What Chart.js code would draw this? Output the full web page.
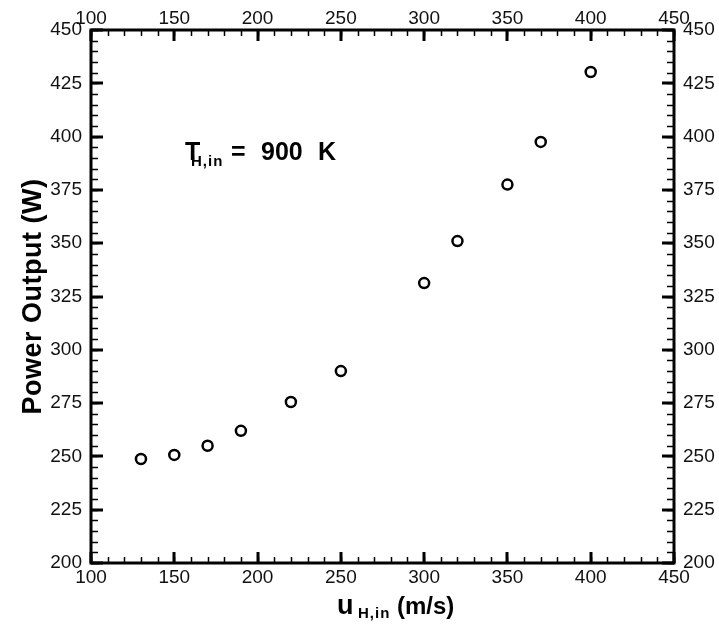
<!DOCTYPE html>
<html>
<head>
<meta charset="utf-8">
<script src="https://cdn.jsdelivr.net/npm/chart.js@4.4.1/dist/chart.umd.min.js"></script>
<style>
html, body { margin: 0; padding: 0; background: #fff; }
</style>
</head>
<body>
<canvas id="myChart" width="719" height="625"></canvas>
<script>
// inlet velocity (m/s) and power output (W)
const velocity = [130, 150, 170, 190, 220, 250, 300, 320, 350, 370, 400];
const power = [248.8, 250.7, 255, 262, 275.5, 290, 331.3, 351, 377.5, 397.5, 430.3];

const xTicks = [100, 150, 200, 250, 300, 350, 400, 450];
const yTicks = [200, 225, 250, 275, 300, 325, 350, 375, 400, 425, 450];
const xMinorStep = 10;
const yMinorStep = 5;

const FONT = '"Liberation Sans", Arial, Helvetica, sans-serif';

function setTicks(list) {
    return scale => { scale.ticks = list.map(v => ({ value: v })); };
}

function axis(position, min, max, list, size, pad) {
    const horiz = position === 'top' || position === 'bottom';
    return {
        type: 'linear',
        position: position,
        min: min,
        max: max,
        grid: { display: false, drawTicks: false },
        border: { display: false },
        afterBuildTicks: setTicks(list),
        afterFit: scale => {
            if (horiz) scale.height = size; else scale.width = size;
        },
        ticks: {
            autoSkip: false,
            maxRotation: 0,
            padding: pad,
            color: '#111',
            font: { family: FONT, size: 19 }
        }
    };
}

// frame, inward ticks on all sides, titles and the note
const decorations = {
    id: 'decorations',
    afterDraw(chart) {
        const ctx = chart.ctx;
        const area = chart.chartArea;
        const xs = chart.scales.x;
        const ys = chart.scales.y;
        ctx.save();
        ctx.strokeStyle = '#000';
        ctx.lineCap = 'butt';

        // minor ticks
        ctx.lineWidth = 1.5;
        ctx.beginPath();
        for (let v = xs.min; v <= xs.max; v += xMinorStep) {
            const px = Math.round(xs.getPixelForValue(v)) + 0.5;
            ctx.moveTo(px, area.bottom); ctx.lineTo(px, area.bottom - 6);
            ctx.moveTo(px, area.top); ctx.lineTo(px, area.top + 6);
        }
        for (let v = ys.min; v <= ys.max; v += yMinorStep) {
            const py = Math.round(ys.getPixelForValue(v)) + 0.5;
            ctx.moveTo(area.left, py); ctx.lineTo(area.left + 7, py);
            ctx.moveTo(area.right, py); ctx.lineTo(area.right - 7, py);
        }
        ctx.stroke();

        // major ticks
        ctx.lineWidth = 3;
        ctx.beginPath();
        xTicks.forEach(v => {
            const px = Math.round(xs.getPixelForValue(v));
            ctx.moveTo(px, area.bottom); ctx.lineTo(px, area.bottom - 11);
            ctx.moveTo(px, area.top); ctx.lineTo(px, area.top + 11);
        });
        yTicks.forEach(v => {
            const py = Math.round(ys.getPixelForValue(v));
            ctx.moveTo(area.left, py); ctx.lineTo(area.left + 12, py);
            ctx.moveTo(area.right, py); ctx.lineTo(area.right - 12, py);
        });
        ctx.stroke();

        // frame
        ctx.lineWidth = 3;
        ctx.strokeRect(area.left, area.top, area.right - area.left, area.bottom - area.top);

        ctx.fillStyle = '#000';
        ctx.textBaseline = 'alphabetic';

        // y title
        ctx.save();
        ctx.translate(41, (area.top + area.bottom) / 2);
        ctx.rotate(-Math.PI / 2);
        ctx.textAlign = 'center';
        ctx.font = 'bold 27px ' + FONT;
        ctx.letterSpacing = '0.5px';
        ctx.fillText('Power Output (W)', 0, 0);
        ctx.restore();

        // x title: u_{H,in}(m/s)
        ctx.textAlign = 'left';
        ctx.font = 'bold 27px ' + FONT;
        ctx.fillText('u', 337, 614);
        ctx.font = 'bold 15px ' + FONT;
        ctx.letterSpacing = '1px';
        ctx.fillText('H,in', 358, 618);
        ctx.letterSpacing = '0px';
        ctx.font = 'bold 24px ' + FONT;
        ctx.fillText('(m/s)', 397, 614);

        // note: T_{H,in} = 900 K
        ctx.font = 'bold 25px ' + FONT;
        ctx.fillText('T', 185, 160);
        ctx.font = 'bold 15px ' + FONT;
        ctx.letterSpacing = '1px';
        ctx.fillText('H,in', 191, 166);
        ctx.letterSpacing = '0px';
        ctx.font = 'bold 25px ' + FONT;
        ctx.fillText('=', 231, 160);
        ctx.fillText('900', 261, 160);
        ctx.fillText('K', 318, 160);

        ctx.restore();
    }
};

const ctx = document.getElementById('myChart').getContext('2d');
const chart = new Chart(ctx, {
    type: 'scatter',
    data: {
        datasets: [{
            label: 'Power Output',
            data: velocity.map((v, i) => ({ x: v, y: power[i] })),
            xAxisID: 'x',
            yAxisID: 'y',
            pointStyle: 'circle',
            pointRadius: 5,
            pointBorderWidth: 2.5,
            pointBackgroundColor: 'rgba(255,255,255,0)',
            pointBorderColor: '#000'
        }]
    },
    options: {
        responsive: false,
        animation: false,
        layout: { padding: 0 },
        plugins: {
            legend: { display: false },
            tooltip: { enabled: false }
        },
        scales: {
            x: axis('bottom', 100, 450, xTicks, 62, 3),
            x2: axis('top', 100, 450, xTicks, 30, 0),
            y: axis('left', 200, 450, yTicks, 91, 9),
            y2: axis('right', 200, 450, yTicks, 45, 9)
        }
    },
    plugins: [decorations]
});
</script>
</body>
</html>
